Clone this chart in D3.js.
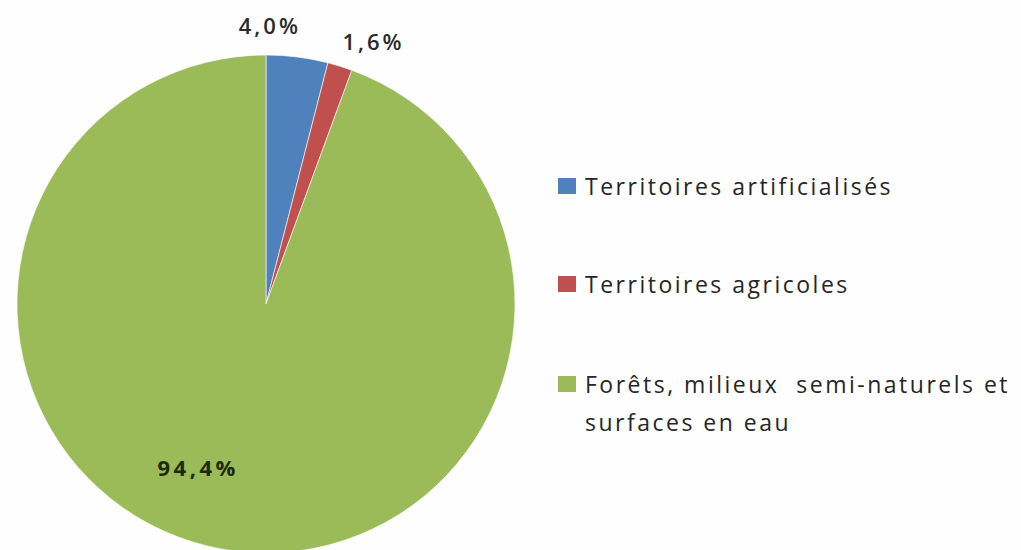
<!DOCTYPE html>
<html><head><meta charset="utf-8">
<script src="https://cdn.jsdelivr.net/npm/d3@7"></script>
<style>body{margin:0;background:#fff}svg{display:block}</style>
</head><body>
<svg id="c" width="1021" height="550"></svg>
<script>
const categories = ["Territoires artificialisés", "Territoires agricoles", "Forêts, milieux semi-naturels et surfaces en eau"];
const legendLines = [["Territoires artificialisés"], ["Territoires agricoles"], ["Forêts, milieux  semi-naturels et", "surfaces en eau"]];
const values = [4.0, 1.6, 94.4];
const valueLabels = ["4,0%", "1,6%", "94,4%"];
const colors = ["#4F81BD", "#C0504D", "#9BBB59"];

const svg = d3.select("#c");
const W = 1021, H = 550;
svg.append("rect").attr("width", W).attr("height", H).attr("fill", "#fefefe");

const cx = 266, cy = 304, R = 249;
const pie = d3.pie().sort(null).value(d => d)(values);
const arc = d3.arc().innerRadius(0).outerRadius(R);
const g = svg.append("g").attr("transform", `translate(${cx},${cy})`);
g.selectAll("path").data(pie).join("path")
  .attr("d", arc).attr("fill", (d, i) => colors[i])
  .attr("stroke", "#ffffff").attr("stroke-opacity", 0.6).attr("stroke-width", 1);

// label placement (angle offset from slice mid-angle in radians, radius factor)
const labelPlace = [{da: -0.112, rf: 1.12}, {da: 0.087, rf: 1.14}, {da: 0.218, rf: 0.71}];
const labelColor = ["#2a2a2a", "#2a2a2a", "#1c2a0c"];
g.selectAll("text.lbl").data(pie).join("text").attr("class", "lbl")
  .each(function(d, i) {
    const a = (d.startAngle + d.endAngle) / 2 + labelPlace[i].da;
    const r = R * labelPlace[i].rf;
    d3.select(this).attr("x", Math.sin(a) * r).attr("y", -Math.cos(a) * r);
  })
  .attr("text-anchor", "middle").attr("dominant-baseline", "central")
  .attr("font-family", "'Open Sans', 'DejaVu Sans', sans-serif").attr("font-size", 22)
  .attr("font-weight", (d, i) => i === 2 ? 700 : 600)
  .attr("letter-spacing", (d, i) => i === 2 ? 3.5 : 3)
  .attr("fill", (d, i) => labelColor[i])
  .text((d, i) => valueLabels[i]);

// legend
const lx = 558, ly = [186, 284, 384], lineH = 38;
const lg = svg.append("g");
categories.forEach((c, i) => {
  lg.append("rect").attr("x", lx).attr("y", ly[i] - 8).attr("width", 18).attr("height", 16).attr("fill", colors[i]);
  const t = lg.append("text").attr("x", lx + 27).attr("y", ly[i])
    .attr("dominant-baseline", "central")
    .attr("font-family", "'Open Sans', 'DejaVu Sans', sans-serif").attr("font-size", 23)
    .attr("letter-spacing", 2.5)
    .attr("fill", "#262626");
  legendLines[i].forEach((ln, j) => {
    t.append("tspan").attr("x", lx + 27).attr("dy", j === 0 ? 0 : lineH).attr("xml:space", "preserve").text(ln);
  });
});
</script>
</body></html>
